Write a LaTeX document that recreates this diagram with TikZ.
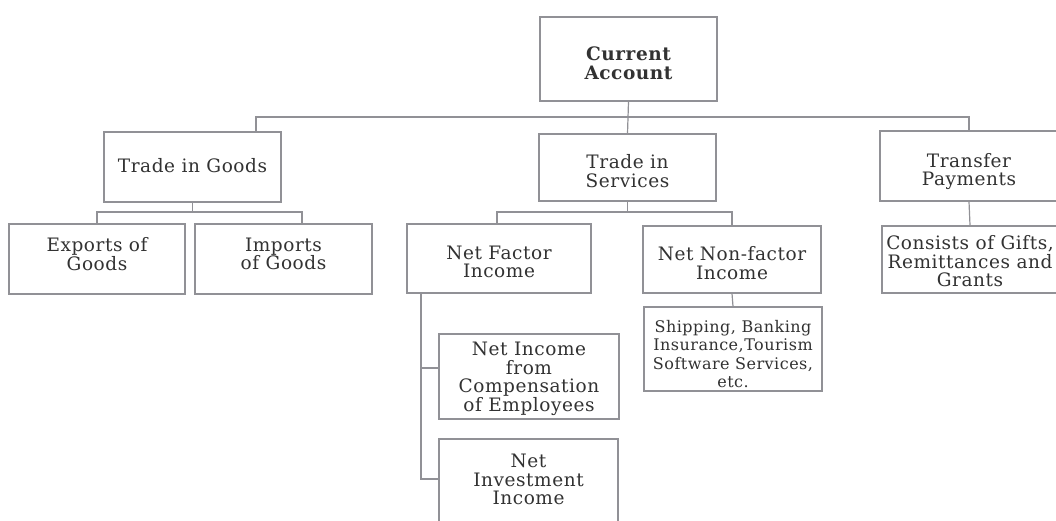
\documentclass[tikz,border=0pt]{standalone}
\usepackage{fontspec}
\setmainfont{DejaVu Serif}[LetterSpace=3]
\definecolor{boxline}{RGB}{145,145,150}
\definecolor{txt}{RGB}{50,50,50}
\begin{document}
\begin{tikzpicture}[x=1pt,y=-1pt,
  bx/.style={draw=boxline,line width=1.2pt,rectangle,inner sep=0pt},
  tx/.style={align=center,inner sep=0pt,text=txt,font=\fontsize{18.5}{18.5}\selectfont},
  ln/.style={draw=boxline,line width=1.2pt}]
\useasboundingbox (0,0) rectangle (1056,520);
\clip (0,0) rectangle (1056,520);
\fill[white] (0,0) rectangle (1056,520);
% boxes
\node[bx,minimum width=177,minimum height=84] (ca) at (628.5,59) {};
\node[bx,minimum width=177,minimum height=70] (tg) at (192.5,167) {};
\node[bx,minimum width=177,minimum height=67] (ts) at (627.5,167.5) {};
\node[bx,minimum width=178,minimum height=70] (tp) at (969,166) {};
\node[bx,minimum width=176,minimum height=70] (ex) at (97,259) {};
\node[bx,minimum width=177,minimum height=70] (im) at (283.5,259) {};
\node[bx,minimum width=184,minimum height=69] (nf) at (499,258.5) {};
\node[bx,minimum width=178,minimum height=67] (nn) at (732,259.5) {};
\node[bx,minimum width=176,minimum height=67] (cg) at (970,259.5) {};
\node[bx,minimum width=178,minimum height=84] (sh) at (733,349) {};
\node[bx,minimum width=180,minimum height=85] (ce) at (529,376.5) {};
\node[bx,minimum width=179,minimum height=84] (ni) at (528.5,481) {};
% texts
\node[tx,font=\fontsize{18.5}{18.5}\selectfont\bfseries] (ca-t) at (628.5,63.5) {Current\\Account};
\node[tx] (tg-t) at (192.5,166) {Trade in Goods};
\node[tx] (ts-t) at (627.5,171) {Trade in\\Services};
\node[tx] (tp-t) at (969,171.5) {Transfer\\Payments};
\node[tx] (ex-t) at (97,254) {Exports of\\Goods};
\node[tx] (im-t) at (283.5,254) {Imports\\of Goods};
\node[tx] (nf-t) at (499,262) {Net Factor\\Income};
\node[tx] (nn-t) at (732,263) {Net Non-factor\\Income};
\node[tx] (cg-t) at (970,261.5) {Consists of Gifts,\\Remittances and\\Grants};
\node[tx,font=\fontsize{16}{18.3}\selectfont] (sh-t) at (733,354) {Shipping, Banking\\Insurance,Tourism\\Software Services,\\etc.};
\node[tx] (ce-t) at (529,379) {Net Income\\from\\Compensation\\of Employees};
\node[tx] (ni-t) at (528.5,479.5) {Net\\Investment\\Income};
% bus coordinates
\coordinate (bL) at (256,117);
\coordinate (gL) at (97,212);
\coordinate (gR) at (302,212);
\coordinate (sL) at (497,212);
\coordinate (sR) at (732,212);
\coordinate (fT) at (421,293);
\coordinate (fC) at (421,368);
\coordinate (fI) at (421,479);
% connectors
\draw[ln] (ca.south) -- (ts.north);
\draw[ln] (tg.north -| bL) -- (bL) -- (bL -| tp.north) -- (tp.north);
\draw[ln] (tg.south) -- (tg.south |- gL);
\draw[ln] (ex.north -| gL) -- (gL) -- (gR) -- (im.north -| gR);
\draw[ln] (ts.south) -- (ts.south |- sL);
\draw[ln] (nf.north -| sL) -- (sL) -- (sR) -- (nn.north);
\draw[ln] (nn.south) -- (sh.north);
\draw[ln] (tp.south) -- (cg.north);
\draw[ln] (nf.south -| fT) -- (fI) -- (fI -| ni.west);
\draw[ln] (fC) -- (fC -| ce.west);
\end{tikzpicture}
\end{document}
